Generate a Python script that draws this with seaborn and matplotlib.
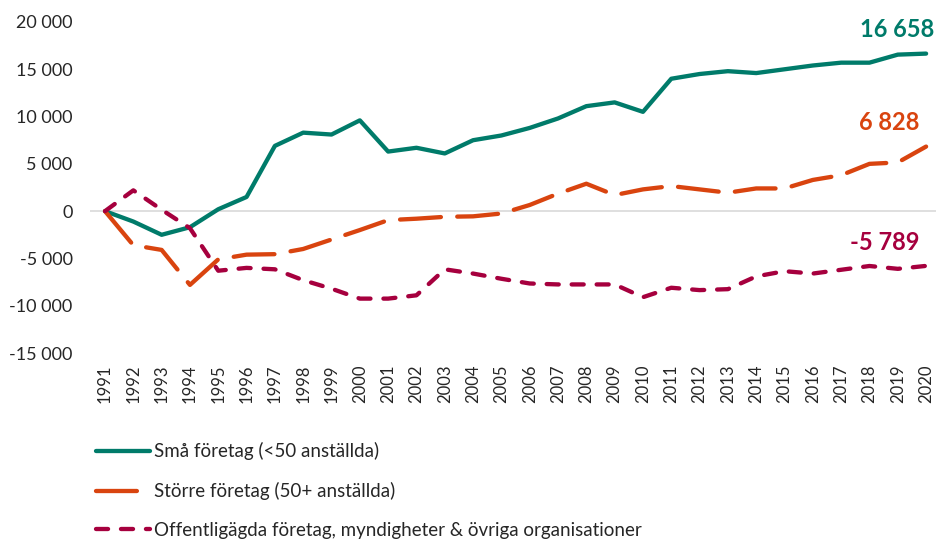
import matplotlib
matplotlib.use("Agg")
import matplotlib.pyplot as plt
import matplotlib.ticker as mticker
import seaborn as sns
import pandas as pd

# net change in number of employees per sector, indexed to 1991
years = list(range(1991, 2021))
sma = [0, -1100, -2500, -1700, 200, 1500, 6900, 8300, 8100, 9600,
       6300, 6700, 6100, 7500, 8000, 8800, 9800, 11100, 11500, 10500,
       14000, 14500, 14800, 14600, 15000, 15400, 15700, 15700, 16550, 16658]
storre = [0, -3600, -4100, -7800, -5100, -4600, -4550, -4000, -3000, -2000,
          -950, -800, -600, -550, -250, 650, 1850, 2900, 1700, 2300,
          2650, 2300, 1950, 2400, 2400, 3300, 3800, 5000, 5150, 6828]
offentliga = [0, 2200, 150, -1800, -6300, -6000, -6150, -7300, -8200, -9250,
              -9250, -8900, -6150, -6600, -7150, -7650, -7750, -7750, -7750, -9100,
              -8100, -8350, -8250, -6900, -6350, -6600, -6200, -5800, -6100, -5789]
labels = ["Små företag (<50 anställda)",
          "Större företag (50+ anställda)",
          "Offentligägda företag, myndigheter & övriga organisationer"]
end_labels = ["16 658", "6 828", "-5 789"]

colors = {labels[0]: "#007B6A", labels[1]: "#D9440F", labels[2]: "#A6003E"}
dashes = {labels[0]: "", labels[1]: (9.5, 3.8), labels[2]: (2.8, 3.0)}

df = pd.DataFrame({
    "year": years * 3,
    "value": sma + storre + offentliga,
    "serie": [labels[0]] * len(years) + [labels[1]] * len(years) + [labels[2]] * len(years),
})

sns.set_theme(style="white")
plt.rcParams["font.family"] = ["Lato", "DejaVu Sans"]

fig = plt.figure(figsize=(9.36, 5.39), dpi=100)
ax = fig.add_axes([90 / 936, 186 / 539, 846 / 936, 331 / 539])

ax.axhline(0, color="#d9d9d9", lw=1.2, zorder=0)
sns.lineplot(data=df, x="year", y="value", hue="serie", style="serie",
             palette=colors, dashes=dashes, linewidth=3.1, ax=ax,
             dash_capstyle="round", solid_capstyle="round")

ax.set_xlim(1990.47, 2020.35)
ax.set_ylim(-15000, 20000)
ax.set_yticks(range(-15000, 20001, 5000))
ax.yaxis.set_major_formatter(mticker.FuncFormatter(lambda v, p: f"{v:,.0f}".replace(",", " ")))
ax.set_xticks(years)
ax.set_xticklabels([str(y) for y in years], rotation=90)
ax.tick_params(axis="y", length=0, pad=12.5, labelsize=13, labelcolor="#262626")
ax.tick_params(axis="x", length=0, pad=8, labelsize=12, labelcolor="#262626")
ax.set_xlabel("")
ax.set_ylabel("")
sns.despine(ax=ax, left=True, bottom=True)

series = [sma, storre, offentliga]
x_off = [6, -4.5, -4.5]
for lab, vals, txt, dx in zip(labels, series, end_labels, x_off):
    ax.annotate(txt, xy=(years[-1], vals[-1]), xytext=(dx, 17), textcoords="offset points",
                ha="right", va="center", fontsize=17, fontweight="bold", color=colors[lab])

handles, hlabels = ax.get_legend_handles_labels()
keep = [(h, l) for h, l in zip(handles, hlabels) if l in labels]
ax.get_legend().remove()
fig.legend([h for h, l in keep], [l for h, l in keep], loc="upper left",
           bbox_to_anchor=(96 / 936, 1 - 442 / 539), frameon=False, fontsize=13.5,
           handlelength=2.9, handletextpad=0.2, labelspacing=1.17,
           borderpad=0, borderaxespad=0, labelcolor="#262626")

fig.savefig("out.png", dpi=100)
